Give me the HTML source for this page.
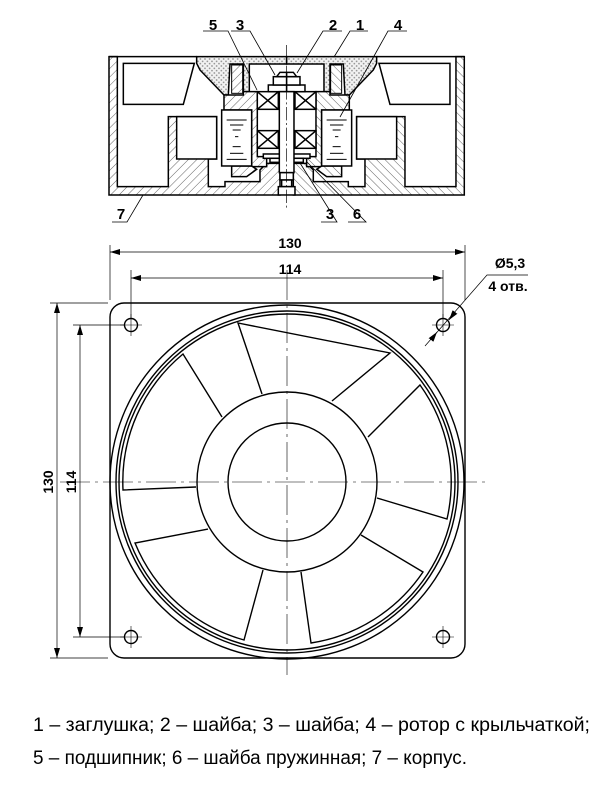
<!DOCTYPE html>
<html><head><meta charset="utf-8"><style>
html,body{margin:0;padding:0;background:#fff;width:600px;height:800px;overflow:hidden}
svg{display:block}
</style></head><body>
<svg width="600" height="800" viewBox="0 0 600 800" xmlns="http://www.w3.org/2000/svg">
<defs>
<pattern id="h" width="18" height="18" patternUnits="userSpaceOnUse" patternTransform="rotate(45)">
<rect width="18" height="18" fill="#fff"/><line x1="0" y1="0" x2="0" y2="18" stroke="#444" stroke-width="2.5"/></pattern>
<pattern id="c" width="14" height="14" patternUnits="userSpaceOnUse">
<rect width="14" height="14" fill="#f2f2f2"/><circle cx="7" cy="7" r="2.5" fill="#888"/><circle cx="0" cy="0" r="2.5" fill="#888"/><circle cx="14" cy="0" r="2.5" fill="#888"/><circle cx="0" cy="14" r="2.5" fill="#888"/><circle cx="14" cy="14" r="2.5" fill="#888"/></pattern>
<marker id="a" markerWidth="10" markerHeight="6" refX="10" refY="3" orient="auto-start-reverse" markerUnits="userSpaceOnUse"><path d="M0,0 L10,3 L0,6 z" fill="#000"/></marker>
<g id="half" stroke="#000" stroke-width="4.5" stroke-linejoin="miter">
<polygon fill="url(#h)" points="27,140 52,140 52,530 205,530 205,320 350,320 350,447 325,447 325,530 375,530 375,515 480,515 480,480 500,460 540,460 540,555 27,555"/>
<line x1="27" y1="140" x2="290" y2="140"/>
<rect x="230" y="320" width="120" height="127" fill="#fff"/>
<polygon fill="#fff" points="70,160 283,160 250,283 70,283"/>
<polygon fill="url(#c)" points="290,140 560,140 560,162 448,162 448,245 430,245 430,162 390,162 385,255 372,255 300,180 290,160"/>
<rect x="395" y="165" width="33" height="85" fill="url(#h)" stroke-width="3"/>
<polygon fill="url(#h)" points="372,255 430,255 430,245 472,245 472,440 500,440 500,470 455,470 455,300 372,300"/>
<polygon fill="url(#h)" points="395,468 455,468 470,478 440,500 395,500"/>
<rect x="365" y="300" width="90" height="168" fill="#fff"/>
<g stroke-width="3">
<line x1="380" y1="330" x2="440" y2="330"/><line x1="390" y1="345" x2="430" y2="345"/><line x1="398" y1="360" x2="422" y2="360"/><line x1="405" y1="380" x2="415" y2="380"/><line x1="398" y1="410" x2="422" y2="410"/><line x1="390" y1="430" x2="430" y2="430"/><line x1="380" y1="448" x2="440" y2="448"/></g>
<rect x="472" y="245" width="63" height="53" fill="#fff"/>
<line x1="472" y1="245" x2="535" y2="298"/><line x1="535" y1="245" x2="472" y2="298"/>
<rect x="472" y="362" width="63" height="53" fill="#fff"/>
<line x1="472" y1="362" x2="535" y2="415"/><line x1="535" y1="362" x2="472" y2="415"/>
<rect x="490" y="432" width="70" height="13" fill="#fff"/>
<rect x="510" y="445" width="50" height="12" fill="#fff"/>
<rect x="505" y="225" width="55" height="20" fill="#fff"/>
<rect x="520" y="200" width="40" height="25" fill="#fff"/>
<polygon fill="#fff" points="530,200 540,187 560,187 560,200"/>
</g>
</defs>

<!-- cross-section -->
<g transform="translate(100,10) scale(0.3333)">
<use href="#half"/>
<use href="#half" transform="translate(1120,0) scale(-1,1)"/>
<g stroke="#000" stroke-width="4.5" fill="#fff">
<rect x="538" y="245" width="44" height="243"/>
<rect x="540" y="488" width="40" height="22"/>
<rect x="545" y="510" width="30" height="20"/>
<rect x="535" y="530" width="50" height="25"/>
</g>
<line x1="560" y1="105" x2="560" y2="600" stroke="#000" stroke-width="2" stroke-dasharray="40,8,6,8"/>
</g>
<!-- section labels -->
<g font-family="Liberation Sans, sans-serif" font-size="15" font-weight="bold" text-anchor="middle">
<text x="213" y="30">5</text><text x="240" y="30">3</text><text x="333" y="30">2</text><text x="360" y="30">1</text><text x="398" y="30">4</text>
<text x="121" y="219">7</text><text x="330" y="219">3</text><text x="357" y="219">6</text>
</g>
<g stroke="#000" stroke-width="0.8" fill="none">
<polyline points="203,31 228,31 257,90"/><polyline points="231,31 250,31 275,75"/>
<polyline points="342,31 323,31 297,73"/><polyline points="368,31 350,31 334,57"/>
<polyline points="407,31 388,31 340,117"/>
<polyline points="112,222 127,222 143,195"/>
<polyline points="321,222 337,222 300,163"/><polyline points="348,222 366,222 307,162"/>
</g>

<!-- front view -->
<g stroke="#000" fill="none">
<g stroke-width="0.7">
<line x1="110" y1="245" x2="110" y2="300"/><line x1="465" y1="245" x2="465" y2="300"/>
<line x1="131" y1="270" x2="131" y2="318"/><line x1="443" y1="270" x2="443" y2="318"/>
<line x1="50" y1="303" x2="108" y2="303"/><line x1="50" y1="658" x2="108" y2="658"/>
<line x1="73" y1="325" x2="124" y2="325"/><line x1="73" y1="637" x2="124" y2="637"/>
<line x1="110" y1="252" x2="465" y2="252" marker-start="url(#a)" marker-end="url(#a)"/>
<line x1="131" y1="278" x2="443" y2="278" marker-start="url(#a)" marker-end="url(#a)"/>
<line x1="57" y1="303" x2="57" y2="658" marker-start="url(#a)" marker-end="url(#a)"/>
<line x1="80" y1="325" x2="80" y2="637" marker-start="url(#a)" marker-end="url(#a)"/>
<polyline points="425,346 487,275 528,275"/>
<line x1="434" y1="336" x2="437" y2="332" marker-end="url(#a)"/>
<line x1="452" y1="316" x2="449" y2="320" marker-end="url(#a)"/>
</g>
<g stroke-width="0.6" stroke-dasharray="30,5,3,5">
<line x1="60" y1="482" x2="485" y2="482"/><line x1="287" y1="270" x2="287" y2="675"/>
</g>
<g stroke-width="0.6">
<line x1="120" y1="325" x2="142" y2="325"/><line x1="131" y1="314" x2="131" y2="336"/>
<line x1="432" y1="325" x2="454" y2="325"/><line x1="443" y1="314" x2="443" y2="336"/>
<line x1="120" y1="637" x2="142" y2="637"/><line x1="131" y1="626" x2="131" y2="648"/>
<line x1="432" y1="637" x2="454" y2="637"/><line x1="443" y1="626" x2="443" y2="648"/>
</g>
<g stroke-width="1.4">
<rect x="110" y="303" width="355" height="355" rx="14"/>
<circle cx="131" cy="325" r="6.5"/><circle cx="443" cy="325" r="6.5"/>
<circle cx="131" cy="637" r="6.5"/><circle cx="443" cy="637" r="6.5"/>
<circle cx="287" cy="482" r="177"/><circle cx="287" cy="482" r="171"/><circle cx="287" cy="482" r="168"/>
<circle cx="287" cy="482" r="90"/><circle cx="287" cy="482" r="59"/>
<polyline points="262,394 238,323 390,353 332,401"/>
<path d="M368,437 L420,385 A166,166 0 0 1 447,519 L377,498"/>
<path d="M361,535 L423,572 A166,166 0 0 1 311,643 L301,572"/>
<path d="M263,570 L244,640 A166,166 0 0 1 135,543 L208,529"/>
<path d="M196,487 L123,490 A166,166 0 0 1 183,354 L222,417"/>
</g>
</g>
<g font-family="Liberation Sans, sans-serif" font-size="14" font-weight="bold" text-anchor="middle">
<text x="290" y="248">130</text><text x="290" y="274">114</text>
<text x="510" y="268">Ø5,3</text><text x="508" y="291">4 отв.</text>
<text transform="translate(53,482) rotate(-90)">130</text>
<text transform="translate(76,482) rotate(-90)">114</text>
</g>
<g font-family="Liberation Sans, sans-serif" font-size="19">
<text x="33" y="731" textLength="557" lengthAdjust="spacingAndGlyphs">1 – заглушка; 2 – шайба; 3 – шайба; 4 – ротор с крыльчаткой;</text>
<text x="33" y="764" textLength="434" lengthAdjust="spacingAndGlyphs">5 – подшипник; 6 – шайба пружинная; 7 – корпус.</text>
</g>
</svg>
</body></html>
